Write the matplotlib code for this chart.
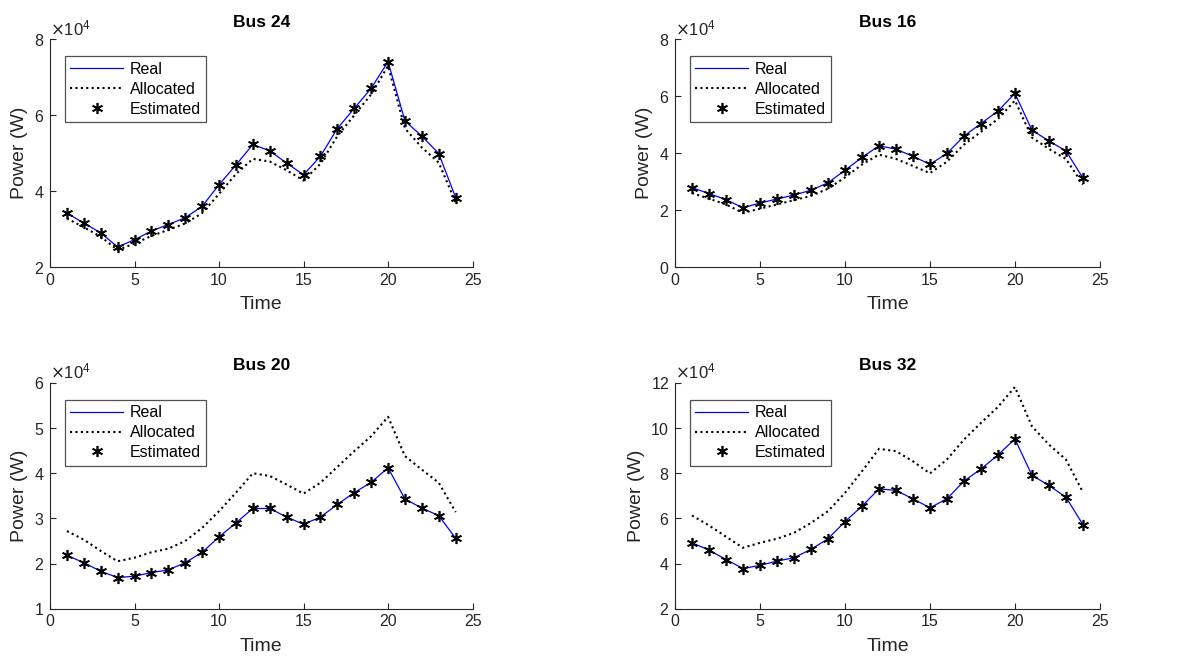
import matplotlib
matplotlib.use("Agg")
import matplotlib.pyplot as plt
from matplotlib.ticker import ScalarFormatter

plt.rcParams['font.family'] = ['Liberation Sans', 'DejaVu Sans']

###################
## Data (power in units of 1e4 W)
###################
time = list(range(1, 25))

titles = ["Bus 24", "Bus 16", "Bus 20", "Bus 32"]

real_bus24 = [3.42, 3.16, 2.90, 2.53, 2.72, 2.95, 3.12, 3.30, 3.60, 4.17, 4.69, 5.23,
              5.06, 4.74, 4.43, 4.92, 5.65, 6.18, 6.71, 7.41, 5.85, 5.45, 4.99, 3.83]
alloc_bus24 = [3.28, 3.05, 2.80, 2.45, 2.62, 2.82, 2.98, 3.15, 3.42, 3.93, 4.45, 4.85,
               4.78, 4.55, 4.28, 4.72, 5.45, 6.00, 6.55, 7.30, 5.65, 5.15, 4.75, 3.70]

real_bus16 = [2.79, 2.58, 2.37, 2.08, 2.25, 2.39, 2.53, 2.70, 2.96, 3.40, 3.85, 4.26,
              4.14, 3.89, 3.61, 3.99, 4.60, 5.04, 5.48, 6.10, 4.81, 4.43, 4.08, 3.13]
alloc_bus16 = [2.60, 2.40, 2.20, 1.90, 2.05, 2.20, 2.35, 2.50, 2.75, 3.15, 3.60, 3.95,
               3.80, 3.55, 3.30, 3.70, 4.30, 4.75, 5.20, 5.85, 4.55, 4.15, 3.80, 2.90]

real_bus20 = [2.18, 2.02, 1.83, 1.69, 1.72, 1.80, 1.86, 2.02, 2.25, 2.59, 2.90, 3.22,
              3.22, 3.03, 2.87, 3.03, 3.31, 3.57, 3.80, 4.12, 3.43, 3.23, 3.06, 2.56]
alloc_bus20 = [2.72, 2.53, 2.28, 2.05, 2.13, 2.25, 2.33, 2.50, 2.79, 3.16, 3.57, 4.00,
               3.94, 3.75, 3.55, 3.79, 4.14, 4.49, 4.82, 5.25, 4.38, 4.08, 3.79, 3.14]

real_bus32 = [4.92, 4.60, 4.18, 3.78, 3.92, 4.11, 4.26, 4.63, 5.10, 5.86, 6.54, 7.31,
              7.24, 6.87, 6.47, 6.87, 7.65, 8.19, 8.81, 9.52, 7.91, 7.46, 6.94, 5.73]
alloc_bus32 = [6.13, 5.69, 5.19, 4.70, 4.92, 5.10, 5.36, 5.80, 6.32, 7.13, 8.09, 9.08,
               8.98, 8.53, 7.99, 8.61, 9.49, 10.23, 10.94, 11.82, 10.08, 9.27, 8.61, 7.16]

real_series = [real_bus24, real_bus16, real_bus20, real_bus32]
alloc_series = [alloc_bus24, alloc_bus16, alloc_bus20, alloc_bus32]

y_ranges = [(2, 8), (0, 8), (1, 6), (2, 12)]
y_ticks = [[2, 4, 6, 8], [0, 2, 4, 6, 8], [1, 2, 3, 4, 5, 6], [2, 4, 6, 8, 10, 12]]
x_ticks = [0, 5, 10, 15, 20, 25]

###################
## Layout
###################
axes_rects = [
  [0.0425, 0.599, 0.359, 0.342],
  [0.5735, 0.599, 0.361, 0.342],
  [0.0425, 0.086, 0.359, 0.339],
  [0.5735, 0.086, 0.361, 0.339],
]

axis_gray = "#262626"

fig = plt.figure(figsize=(11.77, 6.66), dpi=100)

for i in range(4):
  ax = fig.add_axes(axes_rects[i])
  real = [v * 1e4 for v in real_series[i]]
  alloc = [v * 1e4 for v in alloc_series[i]]

  ax.plot(time, real, color=(0, 0, 1), lw=0.9, label="Real", zorder=3)
  ax.plot(time, alloc, color="black", lw=1.5, ls=(0, (1, 1.6)), label="Allocated", zorder=2)
  ax.plot(time, real, ls="none", marker=(6, 2, 0), ms=8, mew=1.2, color="black",
          label="Estimated", zorder=4)

  ax.set_xlim(0, 25)
  ax.set_ylim(y_ranges[i][0] * 1e4, y_ranges[i][1] * 1e4)
  ax.set_xticks(x_ticks)
  ax.set_yticks([t * 1e4 for t in y_ticks[i]])

  fmt = ScalarFormatter(useMathText=True)
  fmt.set_powerlimits((4, 4))
  ax.yaxis.set_major_formatter(fmt)
  ax.yaxis.get_offset_text().set_fontsize(12)
  ax.yaxis.get_offset_text().set_color(axis_gray)

  for side in ["top", "right"]:
    ax.spines[side].set_visible(False)
  for side in ["left", "bottom"]:
    ax.spines[side].set_color(axis_gray)
  ax.tick_params(direction="in", length=4, colors=axis_gray, labelsize=11.5, pad=4)

  ax.set_title(titles[i], fontsize=12.5, fontweight="bold", pad=9)
  ax.set_xlabel("Time", fontsize=14, color=axis_gray, labelpad=6)
  ax.set_ylabel("Power (W)", fontsize=14, color=axis_gray, labelpad=4)

  leg = ax.legend(loc="upper left", bbox_to_anchor=(0.035, 0.925), fontsize=11.5,
                  frameon=True, fancybox=False, edgecolor=axis_gray,
                  handlelength=3.3, handletextpad=0.4, labelspacing=0.3,
                  borderpad=0.35, borderaxespad=0)
  leg.get_frame().set_linewidth(0.9)

plt.savefig("out.png", dpi=100)
